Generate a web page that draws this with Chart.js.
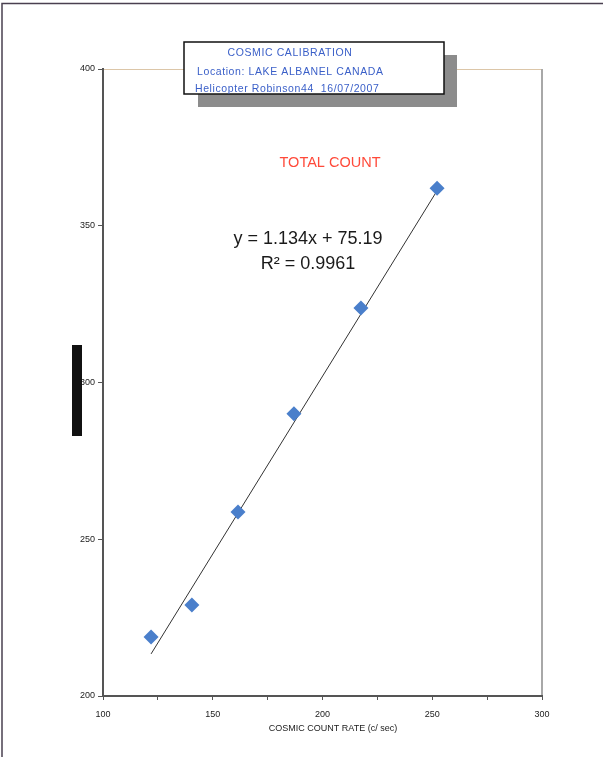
<!DOCTYPE html>
<html>
<head>
<meta charset="utf-8">
<script src="https://cdn.jsdelivr.net/npm/chart.js@4.4.1/dist/chart.umd.min.js"></script>
<style>
  html, body { margin: 0; padding: 0; background: #ffffff; }
  #wrap { width: 603px; height: 757px; position: relative; }
</style>
</head>
<body>
<div id="wrap"><canvas id="c" width="603" height="757"></canvas></div>
<script>
// Cosmic calibration flight: total count vs cosmic count rate
const countRate  = [121.9, 140.5, 161.5, 187.0, 217.5, 252.2];
const totalCount = [218.8, 229.0, 258.7, 290.0, 323.8, 362.0];

// Linear fit reported on the chart
const slope = 1.134;
const intercept = 75.19;
const rSquared = 0.9961;

const xTicks = [100, 150, 200, 250, 300];
const yTicks = [200, 250, 300, 350, 400];

const titleLines = [
  'COSMIC CALIBRATION',
  'Location: LAKE ALBANEL CANADA',
  'Helicopter Robinson44  16/07/2007'
];
const seriesTitle = 'TOTAL COUNT';
const xAxisTitle = 'COSMIC COUNT RATE (c/ sec)';

const points = countRate.map((x, i) => ({ x: x, y: totalCount[i] }));
const xMinFit = Math.min(...countRate);
const xMaxFit = Math.max(...countRate);
const trend = [
  { x: xMinFit, y: slope * xMinFit + intercept },
  { x: xMaxFit, y: slope * xMaxFit + intercept }
];

const FONT = '"Liberation Sans", Arial, sans-serif';

const decor = {
  id: 'decor',
  beforeDraw(chart) {
    const ctx = chart.ctx;
    ctx.save();
    ctx.fillStyle = '#ffffff';
    ctx.fillRect(0, 0, chart.width, chart.height);
    // page frame
    ctx.strokeStyle = '#4a4050';
    ctx.lineWidth = 1.5;
    ctx.beginPath();
    ctx.moveTo(2, 757); ctx.lineTo(2, 3.5); ctx.lineTo(603, 3.5);
    ctx.stroke();
    // plot frame: top and right edges
    const a = chart.chartArea;
    ctx.strokeStyle = '#dcc6a8';
    ctx.lineWidth = 1;
    ctx.beginPath();
    ctx.moveTo(a.left, a.top + 0.5); ctx.lineTo(a.right, a.top + 0.5);
    ctx.stroke();
    ctx.strokeStyle = '#a8a8a8';
    ctx.lineWidth = 2;
    ctx.beginPath();
    ctx.moveTo(a.right, a.top); ctx.lineTo(a.right, a.bottom);
    ctx.stroke();
    ctx.restore();
  },
  afterDraw(chart) {
    const ctx = chart.ctx;
    ctx.save();
    // title box with drop shadow
    ctx.fillStyle = '#8c8c8c';
    ctx.fillRect(198, 55, 259, 52);
    ctx.fillStyle = '#ffffff';
    ctx.fillRect(184, 42, 260, 52);
    ctx.strokeStyle = '#111111';
    ctx.lineWidth = 1.5;
    ctx.strokeRect(184, 42, 260, 52);
    ctx.fillStyle = '#3a5fc8';
    ctx.font = '10.5px ' + FONT;
    ctx.letterSpacing = '0.6px';
    ctx.textBaseline = 'middle';
    ctx.textAlign = 'center';
    ctx.fillText(titleLines[0], 290, 53);
    ctx.textAlign = 'left';
    ctx.fillText(titleLines[1], 197, 72);
    ctx.fillText(titleLines[2], 195, 89.5);
    ctx.letterSpacing = '0px';

    // series label
    ctx.fillStyle = '#ff4a3a';
    ctx.font = '14.5px ' + FONT;
    ctx.textAlign = 'center';
    ctx.fillText(seriesTitle, 330, 163);

    // regression equation
    ctx.fillStyle = '#1a1a1a';
    ctx.font = '18px ' + FONT;
    ctx.fillText('y = ' + slope.toFixed(3) + 'x + ' + intercept.toFixed(2), 308, 239);
    ctx.fillText('R\u00B2 = ' + rSquared.toFixed(4), 308, 264);

    // x axis title
    ctx.font = '9px ' + FONT;
    ctx.fillStyle = '#222222';
    ctx.fillText(xAxisTitle, 333, 729);

    // black marker bar at the left margin
    ctx.fillStyle = '#111111';
    ctx.fillRect(72, 345, 10, 91);
    ctx.restore();
  }
};

new Chart(document.getElementById('c'), {
  type: 'scatter',
  data: {
    datasets: [
      {
        label: seriesTitle,
        data: points,
        pointStyle: 'rectRot',
        pointRadius: 7.5,
        pointHoverRadius: 7.5,
        backgroundColor: '#4a7fcb',
        borderColor: '#4a7fcb',
        borderWidth: 0,
        order: 1
      },
      {
        label: 'fit',
        type: 'line',
        data: trend,
        borderColor: '#333333',
        borderWidth: 1,
        pointRadius: 0,
        fill: false,
        order: 2
      }
    ]
  },
  plugins: [decor],
  options: {
    responsive: false,
    animation: false,
    devicePixelRatio: 1,
    layout: { padding: { left: 0, right: 61, top: 69, bottom: 0 } },
    plugins: {
      legend: { display: false },
      title: { display: false },
      tooltip: { enabled: false }
    },
    scales: {
      x: {
        type: 'linear',
        min: 100, max: 300,
        afterFit(s) { s.height = 61; },
        afterBuildTicks(s) {
          const t = [];
          for (let v = 100; v <= 300; v += 25) t.push({ value: v });
          s.ticks = t;
        },
        ticks: {
          callback: v => xTicks.includes(v) ? String(v) : '',
          font: { family: FONT, size: 9 },
          color: '#222222',
          padding: 9,
          maxRotation: 0,
          autoSkip: false
        },
        grid: { drawOnChartArea: false, tickLength: 4, color: '#555555', lineWidth: 1 },
        border: { color: '#555555', width: 2 }
      },
      y: {
        type: 'linear',
        min: 200, max: 400,
        afterFit(s) { s.width = 103; },
        afterBuildTicks(s) { s.ticks = yTicks.map(v => ({ value: v })); },
        ticks: {
          font: { family: FONT, size: 9 },
          color: '#222222',
          padding: 3
        },
        grid: { drawOnChartArea: false, tickLength: 5, color: '#555555', lineWidth: 1 },
        border: { color: '#555555', width: 2 }
      }
    }
  }
});
</script>
</body>
</html>
